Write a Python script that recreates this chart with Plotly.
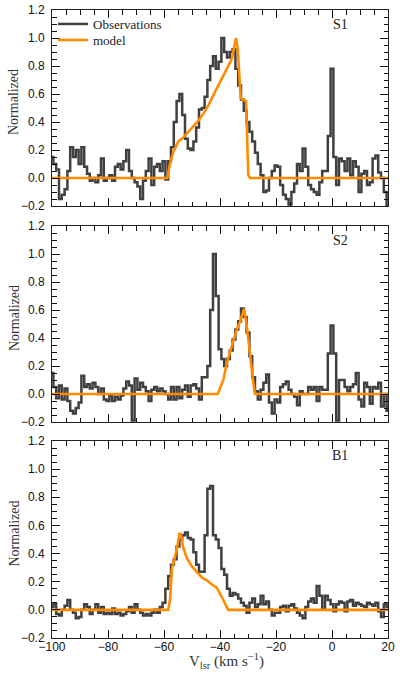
import plotly.graph_objects as go
from plotly.subplots import make_subplots

# channel velocities (km/s), 1 km/s channels from -100 to 20
velocity = list(range(-100, 21))

obs_s1 = [
    0.15, 0.10, 0.06, -0.15, -0.12, -0.08, 0.05, 0.22, 0.15, 0.20,   # -100
    0.10, 0.22, 0.08, 0.03, -0.02, 0.00, -0.03, 0.02, 0.14, -0.02,   # -90
    0.00, 0.02, -0.02, 0.08, 0.10, 0.06, 0.12, 0.20, 0.05, 0.00,     # -80
    -0.03, -0.06, -0.15, -0.02, 0.05, 0.14, -0.05, 0.08, 0.10, 0.05, # -70
    0.12, -0.01, 0.12, 0.22, 0.40, 0.55, 0.60, 0.45, 0.28, 0.21,     # -60
    0.20, 0.26, 0.36, 0.49, 0.50, 0.58, 0.70, 0.80, 0.87, 0.78,      # -50
    0.83, 1.00, 0.90, 0.86, 0.90, 0.92, 0.78, 0.66, 0.56, 0.48,      # -40
    0.40, 0.33, 0.26, 0.18, 0.10, 0.02, -0.10, -0.09, 0.00, 0.05,    # -30
    0.09, 0.08, -0.05, -0.12, -0.15, -0.19, -0.10, -0.04, 0.10, 0.05,# -20
    0.21, 0.08, -0.05, -0.08, -0.10, -0.12, -0.03, 0.05, 0.05, 0.30, # -10
    0.78, 0.15, -0.05, 0.14, 0.12, 0.05, 0.14, 0.02, 0.12, 0.08,     # 0
    -0.10, 0.03, 0.05, -0.05, -0.03, 0.14, 0.16, 0.04, 0.00, -0.10,  # 10
    -0.20,                                                           # 20
]

obs_s2 = [
    0.15, 0.05, -0.03, 0.06, -0.04, 0.04, -0.05, -0.12, -0.14, -0.10,# -100
    -0.06, 0.13, 0.05, 0.07, 0.04, 0.08, 0.05, 0.00, 0.04, -0.04,    # -90
    -0.05, -0.01, -0.05, -0.02, -0.04, -0.01, 0.04, 0.09, 0.06, -0.19,# -80
    0.11, 0.03, 0.08, 0.05, 0.02, -0.05, 0.03, 0.05, 0.02, 0.04,     # -70
    0.02, 0.00, -0.04, 0.05, -0.04, 0.05, -0.03, 0.03, 0.06, -0.02,  # -60
    0.06, 0.07, 0.04, -0.04, 0.12, 0.12, 0.20, 0.60, 1.00, 0.70,     # -50
    0.32, 0.25, 0.20, 0.25, 0.31, 0.39, 0.46, 0.52, 0.61, 0.55,      # -40
    0.44, 0.27, 0.12, 0.02, -0.04, 0.03, 0.08, 0.14, -0.06, -0.14,   # -30
    -0.04, -0.06, 0.05, 0.07, 0.09, 0.03, 0.00, -0.02, -0.08, 0.02,  # -20
    0.00, 0.00, 0.05, 0.03, 0.05, -0.05, 0.05, 0.03, 0.03, 0.29,     # -10
    0.49, 0.29, -0.19, 0.10, 0.10, 0.05, 0.02, 0.05, 0.07, 0.15,     # 0
    -0.04, -0.09, 0.08, 0.05, -0.07, 0.05, 0.04, 0.08, -0.09, 0.00,  # 10
    -0.12,                                                           # 20
]

obs_b1 = [
    0.02, 0.04, -0.03, -0.04, 0.00, 0.03, 0.07, 0.00, -0.02, -0.06,  # -100
    -0.05, 0.00, 0.04, 0.02, -0.03, 0.00, 0.04, -0.02, 0.02, -0.03,  # -90
    -0.02, -0.03, 0.01, -0.03, -0.02, -0.04, -0.03, -0.01, 0.02, -0.02,# -80
    0.04, 0.00, -0.02, -0.04, -0.03, -0.04, -0.02, 0.00, -0.02, 0.02,# -70
    0.05, 0.15, 0.24, 0.32, 0.36, 0.45, 0.50, 0.53, 0.55, 0.51,      # -60
    0.50, 0.41, 0.32, 0.27, 0.27, 0.53, 0.86, 0.88, 0.53, 0.50,      # -50
    0.44, 0.29, 0.25, 0.15, 0.10, 0.12, 0.11, 0.08, 0.05, 0.03,      # -40
    -0.02, 0.05, 0.08, 0.02, 0.04, 0.10, 0.04, 0.06, 0.00, -0.04,    # -30
    -0.02, -0.02, 0.02, 0.03, -0.01, 0.03, 0.04, 0.01, -0.02, -0.04, # -20
    -0.06, 0.02, 0.06, 0.08, 0.05, 0.17, 0.10, 0.00, 0.10, 0.07,     # -10
    0.04, -0.01, 0.04, 0.06, 0.05, -0.01, 0.06, 0.07, 0.03, 0.05,    # 0
    0.04, 0.03, 0.02, 0.05, 0.04, 0.03, 0.05, -0.01, -0.05, 0.04,    # 10
    0.02,                                                            # 20
]

# model profiles (velocity breakpoints, normalized intensity)
model_s1_v = [-100, -58.8, -57.9, -56.6, -54.9, -53.1, -51.3, -49.5, -47.7, -45.9,
              -44.1, -42.4, -40.6, -38.8, -37.0, -35.8, -35.0, -34.3, -33.7, -33.2,
              -32.6, -30.7, -30.4, -29.9, -29.3, 20]
model_s1 = [0.0, 0.0, 0.10, 0.19, 0.26, 0.29, 0.33, 0.37, 0.41, 0.46,
            0.52, 0.59, 0.66, 0.74, 0.80, 0.85, 0.93, 1.00, 0.93, 0.76,
            0.57, 0.55, 0.28, 0.02, 0.0, 0.0]

model_s2_v = [-100, -40.8, -38.8, -37.6, -35.8, -34.0, -32.8, -31.4, -30.4, -29.3, -28.1, -27.5, 20]
model_s2 = [0.0, 0.0, 0.10, 0.22, 0.34, 0.46, 0.52, 0.61, 0.48, 0.27, 0.08, 0.0, 0.0]

model_b1_v = [-100, -58.5, -57.8, -57.2, -56.4, -55.4, -54.5, -54.0, -53.1, -51.9,
              -50.1, -48.3, -46.5, -44.7, -42.9, -41.2, -40.0, -38.8, -37.6, -37.0, 20]
model_b1 = [0.0, 0.0, 0.08, 0.29, 0.35, 0.43, 0.54, 0.54, 0.44, 0.37,
            0.31, 0.27, 0.23, 0.21, 0.18, 0.16, 0.12, 0.07, 0.02, 0.0, 0.0]

panel_labels = ["S1", "S2", "B1"]
y_ticks = [-0.2, 0.0, 0.2, 0.4, 0.6, 0.8, 1.0, 1.2]
x_ticks = [-100, -80, -60, -40, -20, 0, 20]

OBS_COLOR = "#404040"
MODEL_COLOR = "#ff8c00"
SERIF = "Liberation Serif, Times New Roman, serif"
SANS = "Liberation Sans, Arial, sans-serif"

W, H = 400, 676
ML, MR, MT, MB = 52, 12, 10, 38
H_PLOT = H - MT - MB
W_PLOT = W - ML - MR

def py(px):
    """figure pixel row -> paper y"""
    return (H - MB - px) / H_PLOT

def px_(pxx):
    """figure pixel column -> paper x"""
    return (pxx - ML) / W_PLOT

fig = make_subplots(rows=3, cols=1)

panels = [(obs_s1, model_s1_v, model_s1), (obs_s2, model_s2_v, model_s2), (obs_b1, model_b1_v, model_b1)]
for i, (obs, mv, mval) in enumerate(panels):
    row = i + 1
    fig.add_trace(go.Scatter(x=velocity, y=obs, mode="lines",
                             line=dict(color=OBS_COLOR, width=2.5, shape="hvh"),
                             name="Observations", showlegend=(i == 0), legend="legend"),
                  row=row, col=1)
    fig.add_trace(go.Scatter(x=mv, y=mval, mode="lines", line=dict(color=MODEL_COLOR, width=2.6),
                             name="model", showlegend=(i == 0), legend="legend2"),
                  row=row, col=1)
    fig.add_annotation(x=3, y=1.1, text=panel_labels[i], showarrow=False,
                       font=dict(family=SERIF, size=14, color="#222"), row=row, col=1)

# panel extents in figure pixels (top, bottom)
panel_px = [(10, 206), (226, 422), (441, 638)]

for i in range(3):
    ax_x = "xaxis" if i == 0 else f"xaxis{i+1}"
    ax_y = "yaxis" if i == 0 else f"yaxis{i+1}"
    top, bot = panel_px[i]
    fig.layout[ax_y].update(
        domain=[py(bot), py(top)], range=[-0.2, 1.2], tickvals=y_ticks, tickformat=".1f",
        ticks="inside", ticklen=8, tickwidth=1, tickcolor="#111",
        minor=dict(ticks="inside", ticklen=4.5, dtick=0.05, tick0=0, tickcolor="#111", showgrid=False),
        showline=True, linecolor="#222", linewidth=1, mirror="allticks",
        showgrid=False, zeroline=False, automargin=False,
        tickfont=dict(family=SANS, size=12, color="#111"), ticklabelstandoff=4,
    )
    fig.layout[ax_x].update(
        range=[-100, 20], tickvals=x_ticks,
        ticks="inside", ticklen=8, tickwidth=1, tickcolor="#111",
        minor=dict(ticks="inside", ticklen=4.5, dtick=5, tick0=0, tickcolor="#111", showgrid=False),
        showline=True, linecolor="#222", linewidth=1, mirror="allticks",
        showgrid=False, zeroline=False, showticklabels=(i == 2), automargin=False,
        tickfont=dict(family=SANS, size=12, color="#111"), ticklabelstandoff=-2,
    )
    # y-axis title
    fig.add_annotation(xref="paper", yref="paper", x=px_(14), y=py((top + bot) / 2 - 6),
                       text="Normalized", textangle=-90, showarrow=False,
                       xanchor="center", yanchor="middle",
                       font=dict(family=SERIF, size=14, color="#333"))

# x-axis title
fig.add_annotation(xref="paper", yref="paper", x=px_(226), y=py(661),
                   text="V<sub>lsr</sub> (km s<sup>\u22121</sup>)", showarrow=False,
                   xanchor="center", yanchor="middle",
                   font=dict(family=SERIF, size=15, color="#333"))

legend_common = dict(xanchor="left", yanchor="top", bgcolor="rgba(0,0,0,0)",
                     font=dict(family=SERIF, size=13, color="#222"), itemwidth=30)
fig.update_layout(
    width=W, height=H,
    margin=dict(l=ML, r=MR, t=MT, b=MB, autoexpand=False),
    paper_bgcolor="white", plot_bgcolor="white",
    showlegend=True,
    legend=dict(x=px_(53), y=py(9), **legend_common),
    legend2=dict(x=px_(53), y=py(25), **legend_common),
)

fig.write_html("out.html", config={"displayModeBar": False},
               post_script="document.body.style.margin='0';")
